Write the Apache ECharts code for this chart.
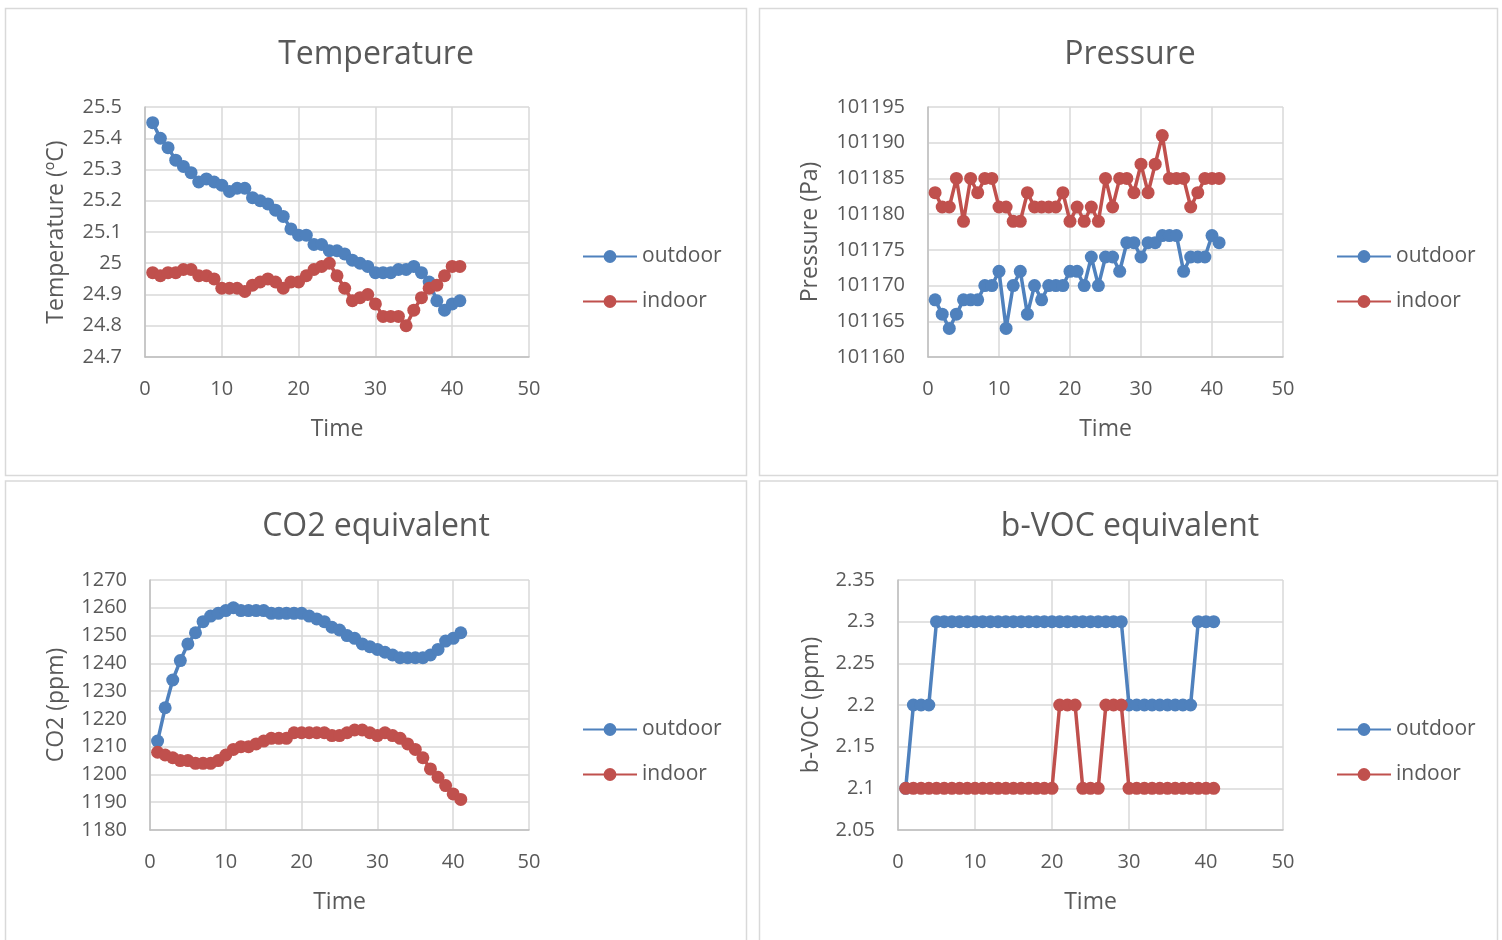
<!DOCTYPE html>
<html>
<head>
<meta charset="utf-8">
<script src="https://cdn.jsdelivr.net/npm/echarts@6/dist/echarts.min.js"></script>
<style>
html,body{margin:0;padding:0;background:#fff;}
#c{width:1502px;height:940px;}
</style>
</head>
<body>
<div id="c"></div>
<script>
var time = [1,2,3,4,5,6,7,8,9,10,11,12,13,14,15,16,17,18,19,20,21,22,23,24,25,26,27,28,29,30,31,32,33,34,35,36,37,38,39,40,41];
var xTicks = [0,10,20,30,40,50];

var tempOutdoor = [25.45,25.40,25.37,25.33,25.31,25.29,25.26,25.27,25.26,25.25,
  25.23,25.24,25.24,25.21,25.20,25.19,25.17,25.15,25.11,25.09,
  25.09,25.06,25.06,25.04,25.04,25.03,25.01,25.00,24.99,24.97,
  24.97,24.97,24.98,24.98,24.99,24.97,24.94,24.88,24.85,24.87,24.88];
var tempIndoor = [24.97,24.96,24.97,24.97,24.98,24.98,24.96,24.96,24.95,24.92,
  24.92,24.92,24.91,24.93,24.94,24.95,24.94,24.92,24.94,24.94,
  24.96,24.98,24.99,25.00,24.96,24.92,24.88,24.89,24.90,24.87,
  24.83,24.83,24.83,24.80,24.85,24.89,24.92,24.93,24.96,24.99,24.99];

var pressOutdoor = [101168,101166,101164,101166,101168,101168,101168,101170,101170,101172,
  101164,101170,101172,101166,101170,101168,101170,101170,101170,101172,
  101172,101170,101174,101170,101174,101174,101172,101176,101176,101174,
  101176,101176,101177,101177,101177,101172,101174,101174,101174,101177,101176];
var pressIndoor = [101183,101181,101181,101185,101179,101185,101183,101185,101185,101181,
  101181,101179,101179,101183,101181,101181,101181,101181,101183,101179,
  101181,101179,101181,101179,101185,101181,101185,101185,101183,101187,
  101183,101187,101191,101185,101185,101185,101181,101183,101185,101185,101185];

var co2Outdoor = [1212,1224,1234,1241,1247,1251,1255,1257,1258,1259,
  1260,1259,1259,1259,1259,1258,1258,1258,1258,1258,
  1257,1256,1255,1253,1252,1250,1249,1247,1246,1245,
  1244,1243,1242,1242,1242,1242,1243,1245,1248,1249,1251];
var co2Indoor = [1208,1207,1206,1205,1205,1204,1204,1204,1205,1207,
  1209,1210,1210,1211,1212,1213,1213,1213,1215,1215,
  1215,1215,1215,1214,1214,1215,1216,1216,1215,1214,
  1215,1214,1213,1211,1209,1206,1202,1199,1196,1193,1191];

var vocOutdoor = [2.1,2.2,2.2,2.2,2.3,2.3,2.3,2.3,2.3,2.3,
  2.3,2.3,2.3,2.3,2.3,2.3,2.3,2.3,2.3,2.3,
  2.3,2.3,2.3,2.3,2.3,2.3,2.3,2.3,2.3,2.2,
  2.2,2.2,2.2,2.2,2.2,2.2,2.2,2.2,2.3,2.3,2.3];
var vocIndoor = [2.1,2.1,2.1,2.1,2.1,2.1,2.1,2.1,2.1,2.1,
  2.1,2.1,2.1,2.1,2.1,2.1,2.1,2.1,2.1,2.1,
  2.2,2.2,2.2,2.1,2.1,2.1,2.2,2.2,2.2,2.1,
  2.1,2.1,2.1,2.1,2.1,2.1,2.1,2.1,2.1,2.1,2.1];

var titles = ['Temperature','Pressure','CO2 equivalent','b-VOC equivalent'];
var yNames = ['Temperature (ºC)','Pressure (Pa)','CO2 (ppm)','b-VOC (ppm)'];
var seriesNames = ['outdoor','indoor'];

var FONT = '"Open Sans", "Noto Sans", sans-serif';
var TXT = '#595959';
var BLUE = '#4f81bd', RED = '#c0504d';

var grids = [
  {left:145, top:107, width:384, height:250},
  {left:928, top:107, width:355, height:250},
  {left:150, top:580, width:379, height:250},
  {left:898, top:580, width:385, height:250}
];
var yRanges = [
  {min:24.7, max:25.5, interval:0.1},
  {min:101160, max:101195, interval:5},
  {min:1180, max:1270, interval:10},
  {min:2.05, max:2.35, interval:0.05}
];
var yNameGaps = [77, 106, 82, 75];
var titlePos = [[376,39],[1130,39],[376,511],[1130,511]];
var legendPos = [[582,246],[1336,246],[582,719],[1336,719]];
var dataSets = [[tempOutdoor,tempIndoor],[pressOutdoor,pressIndoor],[co2Outdoor,co2Indoor],[vocOutdoor,vocIndoor]];

function fmt(v){ return String(Math.round(v*100)/100); }
function pairs(ys){ return time.map(function(t,i){ return [t, ys[i]]; }); }

var option = {
  animation:false,
  backgroundColor:'#ffffff',
  textStyle:{fontFamily:FONT},
  graphic:[
    {type:'rect', shape:{x:5.5,y:8.5,width:741,height:467}, style:{fill:'none',stroke:'#d9d9d9',lineWidth:1.5}, silent:true, z:-10},
    {type:'rect', shape:{x:759.5,y:8.5,width:738,height:467}, style:{fill:'none',stroke:'#d9d9d9',lineWidth:1.5}, silent:true, z:-10},
    {type:'rect', shape:{x:5.5,y:481,width:741,height:470}, style:{fill:'none',stroke:'#d9d9d9',lineWidth:1.5}, silent:true, z:-10},
    {type:'rect', shape:{x:759.5,y:481,width:738,height:470}, style:{fill:'none',stroke:'#d9d9d9',lineWidth:1.5}, silent:true, z:-10}
  ],
  title: titles.map(function(t,i){
    return {text:t, left:titlePos[i][0], top:titlePos[i][1], textAlign:'center', padding:0,
      textStyle:{fontFamily:FONT, fontSize:32, fontWeight:'normal', color:TXT}};
  }),
  legend: legendPos.map(function(p,i){
    return {left:p[0], top:p[1], orient:'vertical', padding:0, itemWidth:54, itemHeight:16, itemGap:24,
      data: seriesNames.map(function(n){ return n + '\u200B'.repeat(i); }),
      formatter: function(name){ return name.replace(/\u200B/g,''); },
      textStyle:{fontFamily:FONT, fontSize:21, color:TXT}};
  }),
  grid: grids,
  xAxis: grids.map(function(g,i){
    return {type:'value', gridIndex:i, min:xTicks[0], max:xTicks[xTicks.length-1], interval:xTicks[1]-xTicks[0],
      name:'Time', nameLocation:'middle', nameGap:61,
      nameTextStyle:{fontFamily:FONT, fontSize:23, color:TXT},
      axisLine:{show:true, onZero:false, lineStyle:{color:'#bfbfbf', width:1.5}},
      axisTick:{show:false},
      axisLabel:{fontFamily:FONT, fontSize:20, color:TXT, margin:22},
      splitLine:{show:true, lineStyle:{color:'#d9d9d9', width:1.5}}};
  }),
  yAxis: grids.map(function(g,i){
    return {type:'value', gridIndex:i, min:yRanges[i].min, max:yRanges[i].max, interval:yRanges[i].interval,
      name:yNames[i], nameLocation:'middle', nameGap:yNameGaps[i], nameRotate:90,
      nameTextStyle:{fontFamily:FONT, fontSize:23, color:TXT},
      axisLine:{show:true, onZero:false, lineStyle:{color:'#bfbfbf', width:1.5}},
      axisTick:{show:false},
      axisLabel:{fontFamily:FONT, fontSize:20, color:TXT, margin:23, formatter:fmt},
      splitLine:{show:true, lineStyle:{color:'#d9d9d9', width:1.5}}};
  }),
  series: []
};

dataSets.forEach(function(ds,i){
  [BLUE,RED].forEach(function(col,j){
    option.series.push({
      type:'line', name: seriesNames[j] + '\u200B'.repeat(i), xAxisIndex:i, yAxisIndex:i,
      data: pairs(ds[j]), symbol:'circle', symbolSize:13, showSymbol:true,
      lineStyle:{color:col, width:3.5}, itemStyle:{color:col, borderWidth:0},
      emphasis:{disabled:true}, z: 2 + j
    });
  });
});

var chart = echarts.init(document.getElementById('c'), null, {renderer:'canvas'});
chart.setOption(option);
</script>
</body>
</html>
